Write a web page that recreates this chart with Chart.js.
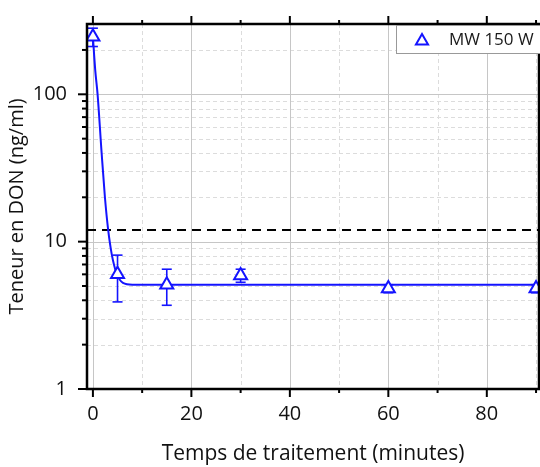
<!DOCTYPE html>
<html>
<head>
<meta charset="utf-8">
<script src="https://cdn.jsdelivr.net/npm/chart.js@4"></script>
<style>
  html, body { margin: 0; padding: 0; background: #fff; }
  #wrap { width: 540px; height: 467px; }
</style>
</head>
<body>
<div id="wrap"><canvas id="chart" width="540" height="467"></canvas></div>
<script>
// values
const times = [0, 5, 15, 30, 60, 90];
const donValues = [246, 6.0, 5.1, 5.9, 4.8, 4.8];
const donErrors = [35, 2.1, 1.4, 0.6, 0.3, 0.3];
const fitTimes = [0, 0.47, 0.95, 1.77, 2.44, 3.1, 3.8, 4.8, 6.1, 8, 20, 91];
const fitValues = [246, 146, 100, 40, 20, 12, 8.3, 6.1, 5.25, 5.1, 5.1, 5.1];
const limitValue = 12;
const xTickValues = [0, 20, 40, 60, 80];
const xMinorValues = [10, 30, 50, 70, 90];
const yTickValues = [1, 10, 100];
const yMinorValues = [2, 3, 4, 5, 6, 7, 8, 9, 20, 30, 40, 50, 60, 70, 80, 90, 200];
const seriesLabel = 'MW 150 W';
const xMin = -1.2, xMax = 90.6, yMin = 1, yMax = 300;

const BLUE = '#1414ff';
const FONT = '"Open Sans"';

function seg(ctx, x1, y1, x2, y2) {
  ctx.beginPath();
  ctx.moveTo(x1, y1);
  ctx.lineTo(x2, y2);
  ctx.stroke();
}

function triangle(ctx, cx, cy, r) {
  const s = Math.sin(Math.PI / 3) * r;
  ctx.beginPath();
  ctx.moveTo(cx, cy - r);
  ctx.lineTo(cx + s, cy + r / 2);
  ctx.lineTo(cx - s, cy + r / 2);
  ctx.closePath();
}

const framePlugin = {
  id: 'frame',
  beforeDatasetsDraw(chart) {
    const { ctx, chartArea: a, scales: { x, y } } = chart;
    ctx.save();
    ctx.lineWidth = 1;

    // minor grid, dashed
    ctx.strokeStyle = '#dcdcdc';
    ctx.setLineDash([4, 3]);
    xMinorValues.forEach(v => {
      const px = Math.round(x.getPixelForValue(v)) + 0.5;
      seg(ctx, px, a.top, px, a.bottom);
    });
    yMinorValues.forEach(v => {
      const py = Math.round(y.getPixelForValue(v)) + 0.5;
      seg(ctx, a.left, py, a.right, py);
    });

    // major grid
    ctx.setLineDash([]);
    ctx.strokeStyle = '#c6c6c6';
    xTickValues.forEach(v => {
      const px = Math.round(x.getPixelForValue(v)) + 0.5;
      seg(ctx, px, a.top, px, a.bottom);
    });
    yTickValues.forEach(v => {
      const py = Math.round(y.getPixelForValue(v)) + 0.5;
      seg(ctx, a.left, py, a.right, py);
    });

    // error bars
    ctx.save();
    ctx.beginPath();
    ctx.rect(a.left, a.top, a.right - a.left, a.bottom - a.top);
    ctx.clip();
    ctx.strokeStyle = BLUE;
    ctx.lineWidth = 1.6;
    times.forEach((t, i) => {
      const px = x.getPixelForValue(t);
      const top = y.getPixelForValue(donValues[i] + donErrors[i]);
      const bot = y.getPixelForValue(donValues[i] - donErrors[i]);
      seg(ctx, px, top, px, bot);
      seg(ctx, px - 5, top, px + 5, top);
      seg(ctx, px - 5, bot, px + 5, bot);
    });
    ctx.restore();
    ctx.restore();
  },
  afterDatasetsDraw(chart) {
    const { ctx, chartArea: a, scales: { x, y } } = chart;
    ctx.save();
    ctx.strokeStyle = '#000';

    // tick marks
    ctx.lineWidth = 2;
    xTickValues.forEach(v => {
      const px = x.getPixelForValue(v);
      seg(ctx, px, a.bottom, px, a.bottom + 8);
      seg(ctx, px, a.top, px, a.top - 8);
    });
    xMinorValues.forEach(v => {
      const px = x.getPixelForValue(v);
      seg(ctx, px, a.bottom, px, a.bottom + 4);
      seg(ctx, px, a.top, px, a.top - 4);
    });
    yTickValues.forEach(v => {
      const py = y.getPixelForValue(v);
      seg(ctx, a.left, py, a.left - 9, py);
    });
    yMinorValues.forEach(v => {
      const py = y.getPixelForValue(v);
      seg(ctx, a.left, py, a.left - 5, py);
    });

    // frame
    ctx.lineWidth = 2.5;
    ctx.strokeRect(a.left, a.top, a.right - a.left, a.bottom - a.top);

    // legend box
    ctx.lineWidth = 1;
    ctx.fillStyle = '#fff';
    ctx.strokeStyle = '#999';
    ctx.fillRect(396.5, 25.5, 160, 28);
    ctx.strokeRect(396.5, 25.5, 160, 28);
    ctx.strokeStyle = BLUE;
    ctx.lineWidth = 2;
    triangle(ctx, 422, 41, 7);
    ctx.stroke();
    ctx.fillStyle = '#1a1a1a';
    ctx.font = '17px ' + FONT;
    ctx.textBaseline = 'middle';
    ctx.textAlign = 'left';
    ctx.fillText(seriesLabel, 449, 40);
    ctx.restore();
  }
};

new Chart(document.getElementById('chart'), {
  type: 'scatter',
  data: {
    datasets: [
      {
        label: seriesLabel,
        data: times.map((t, i) => ({ x: t, y: donValues[i] })),
        showLine: false,
        pointStyle: 'triangle',
        pointRadius: 7.5,
        pointBorderWidth: 2,
        pointBackgroundColor: '#fff',
        pointBorderColor: BLUE,
      },
      {
        label: 'fit',
        data: fitTimes.map((t, i) => ({ x: t, y: fitValues[i] })),
        showLine: true,
        pointRadius: 0,
        borderColor: BLUE,
        borderWidth: 2,
        cubicInterpolationMode: 'monotone',
      },
      {
        label: 'limit',
        data: [{ x: xMin, y: limitValue }, { x: xMax, y: limitValue }],
        showLine: true,
        pointRadius: 0,
        borderColor: '#000',
        borderWidth: 2,
        borderDash: [9, 6],
      },
    ],
  },
  options: {
    responsive: false,
    animation: false,
    layout: { autoPadding: false, padding: { top: 24, right: 1, left: 0, bottom: 0 } },
    plugins: { legend: { display: false }, tooltip: { enabled: false } },
    scales: {
      x: {
        type: 'linear',
        min: xMin,
        max: xMax,
        afterBuildTicks: s => { s.ticks = xTickValues.map(v => ({ value: v })); },
        afterFit: s => { s.height = 78; s.paddingLeft = 0; s.paddingRight = 0; },
        grid: { display: false },
        border: { display: false },
        ticks: { color: '#111', font: { family: FONT, size: 20 }, padding: 5, maxRotation: 0, autoSkip: false },
        title: {
          display: true,
          text: 'Temps de traitement (minutes)',
          color: '#111',
          font: { family: FONT, size: 21 },
          padding: { top: 0, bottom: 0 },
        },
      },
      y: {
        type: 'logarithmic',
        min: yMin,
        max: yMax,
        afterBuildTicks: s => { s.ticks = yTickValues.map(v => ({ value: v })); },
        afterFit: s => { s.width = 87; s.paddingTop = 0; s.paddingBottom = 0; },
        grid: { display: false },
        border: { display: false },
        ticks: { color: '#111', font: { family: FONT, size: 20 }, padding: 12, autoSkip: false, callback: v => String(v) },
        title: {
          display: true,
          text: 'Teneur en DON (ng/ml)',
          color: '#111',
          font: { family: FONT, size: 20 },
          padding: { top: 5, bottom: 0 },
        },
      },
    },
  },
  plugins: [framePlugin],
});
</script>
</body>
</html>
